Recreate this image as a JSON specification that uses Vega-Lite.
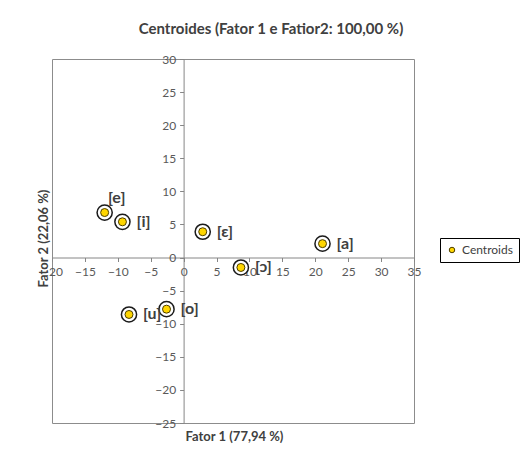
{
  "$schema": "https://vega.github.io/schema/vega-lite/v6.json",
  "autosize": {"type": "none"},
  "padding": {"left": 52, "top": 59, "right": 107, "bottom": 38},
  "width": 362,
  "height": 364,
  "background": "white",
  "config": {
    "font": "Lato",
    "view": {"stroke": "#8c8c8c", "strokeWidth": 1},
    "axis": {
      "grid": false,
      "domainColor": "#868686",
      "tickColor": "#868686",
      "labelColor": "#595959",
      "labelFontSize": 12,
      "labelFont": "Lato",
      "labelFlush": false,
      "labelOverlap": false,
      "tickSize": 4,
      "titleFont": "Lato",
      "titleFontSize": 13,
      "titleFontWeight": "bold",
      "titleColor": "#404040"
    },
    "legend": {
      "orient": "none",
      "legendX": 388,
      "legendY": 179,
      "strokeColor": "#000000",
      "padding": 6,
      "labelFont": "Lato",
      "labelFontSize": 12,
      "labelColor": "#404040",
      "labelOffset": 4,
      "symbolStrokeColor": "#4d3f00",
      "symbolStrokeWidth": 1,
      "symbolSize": 30,
      "title": null
    }
  },
  "title": {
    "text": "Centroides (Fator 1 e  Fatior2: 100,00  %)",
    "fontSize": 15,
    "fontWeight": "bold",
    "color": "#404040",
    "font": "Lato",
    "anchor": "middle",
    "dx": 38,
    "offset": 16
  },
  "data": {
    "values": [
      {"label": "[e]", "f1": -12.0, "f2": 6.8, "series": "Centroids"},
      {"label": "[i]", "f1": -9.3, "f2": 5.4, "series": "Centroids"},
      {"label": "[ɛ]", "f1": 2.9, "f2": 3.9, "series": "Centroids"},
      {"label": "[a]", "f1": 21.1, "f2": 2.1, "series": "Centroids"},
      {"label": "[ɔ]", "f1": 8.7, "f2": -1.5, "series": "Centroids"},
      {"label": "[u]", "f1": -8.3, "f2": -8.6, "series": "Centroids"},
      {"label": "[o]", "f1": -2.6, "f2": -7.8, "series": "Centroids"}
    ]
  },
  "encoding": {
    "x": {
      "field": "f1",
      "type": "quantitative",
      "scale": {"domain": [-20, 35], "nice": false, "zero": false},
      "axis": {
        "values": [-20, -15, -10, -5, 0, 5, 10, 15, 20, 25, 30, 35],
        "offset": -165.5,
        "labelPadding": 5,
        "title": "Fator 1 (77,94 %)",
        "titleX": 182,
        "titleY": 178.5,
        "titleAlign": "center",
        "titleBaseline": "middle"
      }
    },
    "y": {
      "field": "f2",
      "type": "quantitative",
      "scale": {"domain": [-25, 30], "nice": false, "zero": false},
      "axis": {
        "values": [-25, -20, -15, -10, -5, 0, 5, 10, 15, 20, 25, 30],
        "offset": -131.6,
        "labelPadding": 4,
        "title": "Fator 2 (22,06 %)",
        "titleX": -140.6,
        "titleY": 179,
        "titleAngle": -90,
        "titleAlign": "center",
        "titleBaseline": "middle"
      }
    }
  },
  "layer": [
    {
      "mark": {"type": "point", "filled": true, "fill": "white", "stroke": "#1a1a1a", "strokeWidth": 1.5, "size": 230, "opacity": 1}
    },
    {
      "mark": {"type": "point", "filled": true, "stroke": "#4d3f00", "strokeWidth": 1, "size": 64, "opacity": 1},
      "encoding": {
        "fill": {"field": "series", "type": "nominal", "scale": {"range": ["#ffd600"]}}
      }
    },
    {
      "transform": [{"filter": "datum.label !== '[e]'"}],
      "mark": {"type": "text", "align": "left", "baseline": "middle", "dx": 14, "fontSize": 16, "fontWeight": "bold", "color": "#404040", "font": "Lato"},
      "encoding": {"text": {"field": "label"}}
    },
    {
      "transform": [{"filter": "datum.label === '[e]'"}],
      "mark": {"type": "text", "align": "center", "baseline": "middle", "dx": 12, "dy": -15, "fontSize": 16, "fontWeight": "bold", "color": "#404040", "font": "Lato"},
      "encoding": {"text": {"field": "label"}}
    }
  ]
}
